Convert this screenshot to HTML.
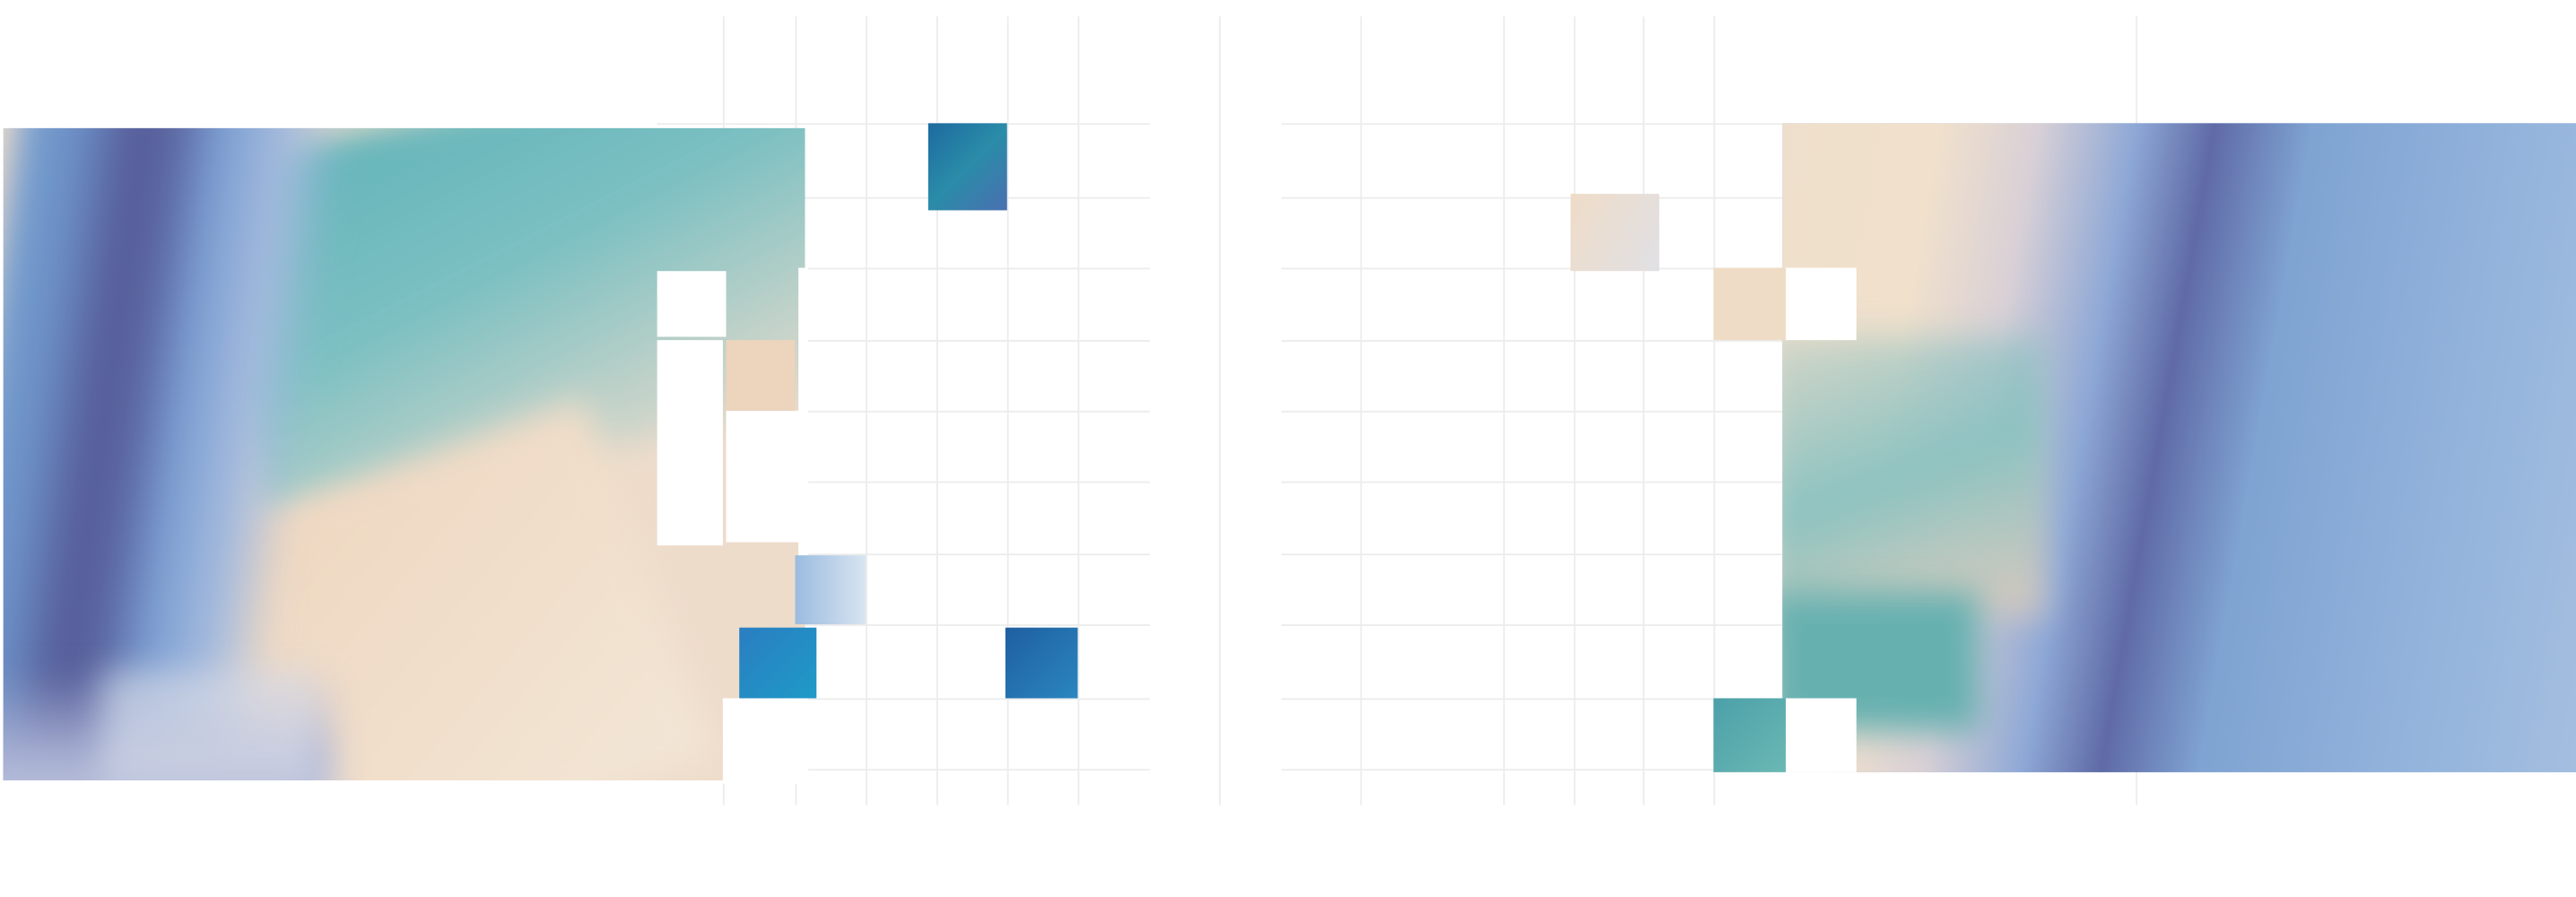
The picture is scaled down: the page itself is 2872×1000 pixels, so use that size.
<!DOCTYPE html>
<html><head><meta charset="utf-8"><style>
html,body{margin:0;padding:0;background:#fff;width:2872px;height:1000px;overflow:hidden}
#w{position:absolute;left:0;top:0;width:1568px;height:546px;transform:scale(1.8316);transform-origin:0 0}
#w div{position:absolute}
.v{width:1px;background:#ececec;top:10px;height:480px}
.h{height:1px;background:#ececec}
.c{overflow:hidden}
.c div{filter:blur(10px)}
</style></head><body><div id="w">
<!-- grid -->
<div class="v" style="left:440px"></div><div class="v" style="left:484px"></div><div class="v" style="left:527px"></div><div class="v" style="left:570px"></div><div class="v" style="left:613px"></div><div class="v" style="left:656px"></div><div class="v" style="left:742px"></div><div class="v" style="left:828px"></div><div class="v" style="left:915px"></div><div class="v" style="left:958px"></div><div class="v" style="left:1000px"></div><div class="v" style="left:1043px"></div><div class="v" style="left:1300px"></div>
<div class="h" style="left:400px;width:300px;top:75px"></div><div class="h" style="left:400px;width:300px;top:120px"></div><div class="h" style="left:400px;width:300px;top:163px"></div><div class="h" style="left:400px;width:300px;top:207px"></div><div class="h" style="left:400px;width:300px;top:250px"></div><div class="h" style="left:400px;width:300px;top:293px"></div><div class="h" style="left:400px;width:300px;top:337px"></div><div class="h" style="left:400px;width:300px;top:380px"></div><div class="h" style="left:400px;width:300px;top:425px"></div><div class="h" style="left:400px;width:300px;top:468px"></div>
<div class="h" style="left:780px;width:310px;top:75px"></div><div class="h" style="left:780px;width:310px;top:120px"></div><div class="h" style="left:780px;width:310px;top:163px"></div><div class="h" style="left:780px;width:310px;top:207px"></div><div class="h" style="left:780px;width:310px;top:250px"></div><div class="h" style="left:780px;width:310px;top:293px"></div><div class="h" style="left:780px;width:310px;top:337px"></div><div class="h" style="left:780px;width:310px;top:380px"></div><div class="h" style="left:780px;width:310px;top:425px"></div><div class="h" style="left:780px;width:310px;top:468px"></div>

<!-- left block -->
<div class="c" style="left:2px;top:78px;width:488px;height:397px;background:#eedccb">
 <div style="left:130px;top:-20px;width:400px;height:220px;background:linear-gradient(165deg,#5fb2b8 0%,#7cc0c2 45%,rgba(170,205,200,0.6) 80%,rgba(235,220,200,0) 100%);transform:rotate(-12deg)"></div>
 <div style="left:150px;top:200px;width:250px;height:230px;background:linear-gradient(150deg,#eed6bf,#f3e6d6);transform:rotate(-20deg)"></div>
 <div style="left:-20px;top:-20px;width:200px;height:440px;background:linear-gradient(90deg,#7aa4d2 0%,#6a8cc4 20%,#565c98 35%,#5a65a0 48%,#7b9ed2 62%,#a5bbde 82%,rgba(220,215,215,0) 100%);transform:skewX(-8deg)"></div>
 <div style="left:-20px;top:330px;width:220px;height:90px;background:linear-gradient(180deg,rgba(150,170,210,0),#aab2d4 60%,#c3c8de)"></div>
 <div style="left:60px;top:330px;width:130px;height:70px;background:#d9dde8;opacity:.6"></div>
</div>
<div style="left:400px;top:165px;width:42px;height:40px;background:#fff"></div>
<div style="left:400px;top:207px;width:40px;height:125px;background:#fff"></div>
<div style="left:442px;top:250px;width:50px;height:80px;background:#fff"></div>
<div style="left:442px;top:207px;width:42px;height:43px;background:#ecd4bd"></div>
<div style="left:486px;top:163px;width:6px;height:177px;background:#fff"></div>
<div style="left:440px;top:425px;width:52px;height:52px;background:#fff"></div>
<!-- scattered tiles -->
<div style="left:565px;top:75px;width:48px;height:53px;background:linear-gradient(135deg,#1d6aa0,#2a8ca8 50%,#4a6fb0)"></div>
<div style="left:484px;top:338px;width:43px;height:42px;background:linear-gradient(90deg,#9bbce0,#d8e4f0)"></div>
<div style="left:450px;top:382px;width:47px;height:43px;background:linear-gradient(135deg,#2a7ec0,#1f9ac8)"></div>
<div style="left:612px;top:382px;width:44px;height:43px;background:linear-gradient(135deg,#1f5fa0,#2a86c0)"></div>

<!-- right block -->
<div class="c" style="left:1085px;top:75px;width:483px;height:395px;background:#94b4dc">
 <div style="left:-20px;top:-20px;width:520px;height:440px;background:linear-gradient(100deg,#eedfcc 0%,#f0e0cc 20%,#d8d0d6 30%,#8ea8d6 40%,#5f6aa6 48%,#7fa3d2 58%,#94b4dc 80%,#a7c0e0 100%);filter:none"></div>
 <div style="left:-10px;top:130px;width:170px;height:170px;background:linear-gradient(160deg,rgba(110,180,190,0.2),#8cc2c0 50%,rgba(230,205,185,0.8))"></div>
 <div style="left:-10px;top:285px;width:130px;height:85px;background:#66b0b0"></div>
</div>
<div style="left:1085px;top:163px;width:45px;height:44px;background:#fff"></div>
<div style="left:1043px;top:163px;width:44px;height:44px;background:#efdcc6"></div>
<div style="left:1085px;top:425px;width:45px;height:45px;background:#fff"></div>
<div style="left:1043px;top:425px;width:44px;height:45px;background:linear-gradient(135deg,#4ba0a8,#6bb8b4)"></div>
<div style="left:956px;top:118px;width:54px;height:47px;background:linear-gradient(120deg,#efdcc8,#e0e0e4)"></div>
</div></body></html>
